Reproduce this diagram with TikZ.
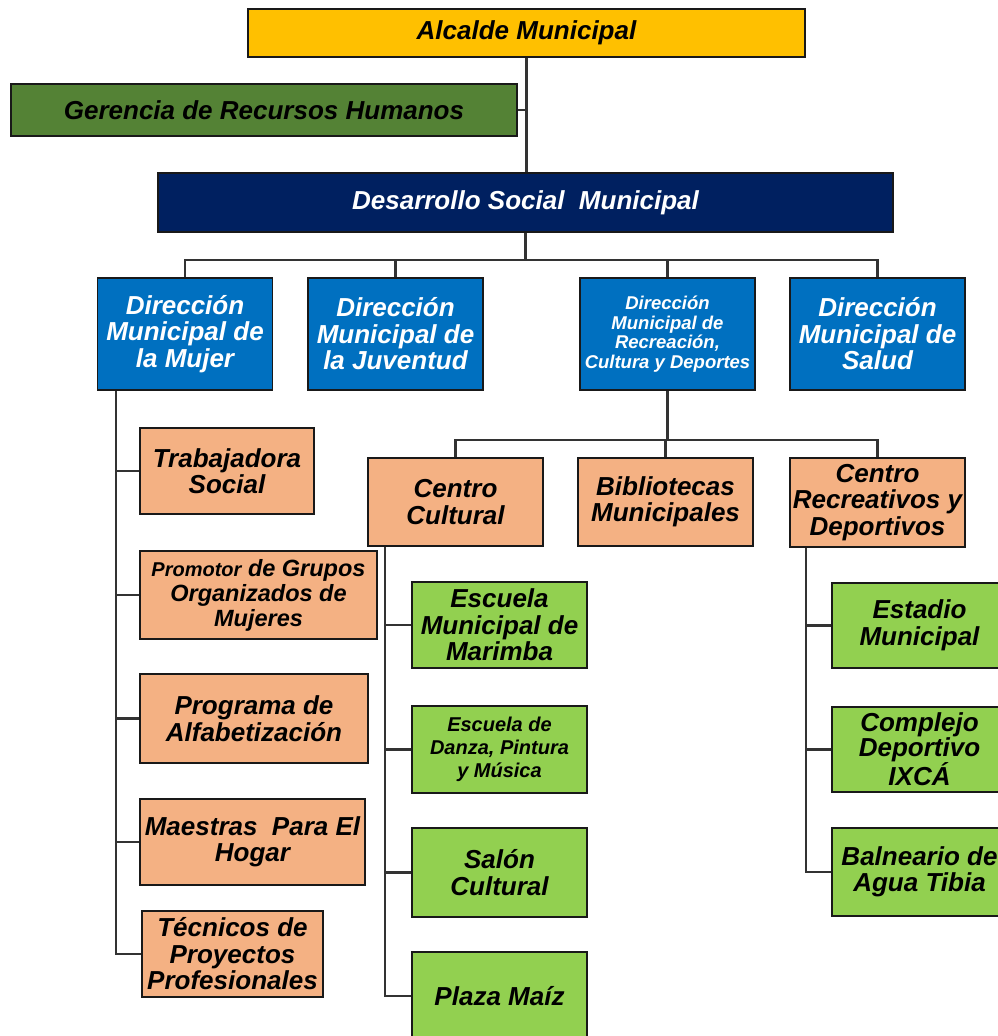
\documentclass[tikz,border=0pt]{standalone}
\usepackage{fontspec}
\setmainfont{Liberation Sans}
\newcommand\fsz[2]{\fontsize{#1}{#2}\selectfont}
\definecolor{gold}{HTML}{FFC000}
\definecolor{olive}{HTML}{548235}
\definecolor{navy}{HTML}{002060}
\definecolor{midblue}{HTML}{0070C0}
\definecolor{peach}{HTML}{F4B183}
\definecolor{lime}{HTML}{92D050}
\tikzset{
  box/.style={draw=black!90, line width=1.8pt, inner sep=0pt, align=center, font={\bfseries\itshape\fsz{26}{26.5}}},
  goldbox/.style={box, fill=gold},
  olivebox/.style={box, fill=olive},
  navybox/.style={box, fill=navy, text=white},
  bluebox/.style={box, fill=midblue, text=white, minimum width=175, minimum height=112},
  peachbox/.style={box, fill=peach},
  limebox/.style={box, fill=lime, minimum width=175},
  link/.style={draw=black!80, line width=2.2pt}
}
\begin{document}
\begin{tikzpicture}[x=1pt, y=-1pt]
\clip (0,0) rectangle (998,1036);
\fill[white] (0,0) rectangle (998,1036);
% top levels
\node[goldbox, minimum width=557, minimum height=48] (alc) at (526.5,33) {Alcalde Municipal};
\node[olivebox, minimum width=506, minimum height=52] (ger) at (264,110) {Gerencia de Recursos Humanos};
\node[navybox, minimum width=735, minimum height=59] (des) at (525.5,202.5) {Desarrollo Social\ \ Municipal};
% direcciones
\node[bluebox] (muj) at (185,334) {Dirección\\Municipal de\\la Mujer};
\node[bluebox] (juv) at (395.5,334) {Dirección\\Municipal de\\la Juventud};
\node[bluebox, font={\bfseries\itshape\fsz{18.5}{19.5}}] (rec) at (667.5,334) {Dirección\\Municipal de\\Recreación,\\Cultura y Deportes};
\node[bluebox] (sal) at (877.5,334) {Dirección\\Municipal de\\Salud};
% mujer column
\node[peachbox, minimum width=174, minimum height=86] (trab) at (227,471) {Trabajadora\\Social};
\node[peachbox, minimum width=237, minimum height=88, font={\bfseries\itshape\fsz{23.5}{25}}] (prom) at (258.5,595) {{\fsz{20}{25}Promotor} de Grupos\\Organizados de\\Mujeres};
\node[peachbox, minimum width=228, minimum height=89] (prog) at (254,718.5) {Programa de\\Alfabetización};
\node[peachbox, minimum width=225, minimum height=86] (maes) at (252.5,842) {Maestras\ \ Para El\\Hogar};
\node[peachbox, minimum width=181, minimum height=86] (tec) at (232.5,954) {Técnicos de\\Proyectos\\Profesionales};
% recreacion children
\node[peachbox, minimum width=175, minimum height=88] (cc) at (455.5,502) {Centro\\Cultural};
\node[peachbox, minimum width=175, minimum height=88] (bib) at (665.5,502) {Bibliotecas\\Municipales};
\node[peachbox, minimum width=175, minimum height=89] (cr) at (877.5,502.5) {Centro\\Recreativos y\\Deportivos};
% centro cultural children
\node[limebox, minimum height=86] (esm) at (499.5,625) {Escuela\\Municipal de\\Marimba};
\node[limebox, minimum height=87, font={\bfseries\itshape\fsz{20}{23}}] (esd) at (499.5,749.5) {Escuela de\\Danza, Pintura\\y Música};
\node[limebox, minimum height=89] (salon) at (499.5,872.5) {Salón\\Cultural};
\node[limebox, minimum height=88] (plaza) at (499.5,996) {Plaza Maíz};
% centro recreativo children
\node[limebox, minimum height=85] (est) at (919.5,625.5) {Estadio\\Municipal};
\node[limebox, minimum height=85, font={\bfseries\itshape\fsz{26}{24.5}}] (comp) at (919.5,749.5) {Complejo\\Deportivo\\IXCÁ};
\node[limebox, minimum height=88] (baln) at (919.5,872) {Balneario de\\Agua Tibia};
% connectors
\coordinate (b1) at (0,260);
\coordinate (b2) at (0,440);
\coordinate (ms) at ([xshift=19pt]muj.south west);
\coordinate (cs) at ([xshift=18pt]cc.south west);
\coordinate (rs) at ([xshift=17pt]cr.south west);
\path[link] (alc.south) -- (alc.south |- des.north);
\path[link] (ger.east) -- (ger.east -| alc.south);
\path[link] (des.south) -- (des.south |- b1);
\path[link] (muj.north) -- (muj.north |- b1) -- (sal.north |- b1) -- (sal.north);
\path[link] (juv.north) -- (juv.north |- b1);
\path[link] (rec.north) -- (rec.north |- b1);
\path[link] (ms) |- (tec.west);
\foreach \n in {trab,prom,prog,maes} \path[link] (ms |- \n.west) -- (\n.west);
\path[link] (rec.south) -- (rec.south |- b2);
\path[link] (cc.north) -- (cc.north |- b2) -- (cr.north |- b2) -- (cr.north);
\path[link] (bib.north) -- (bib.north |- b2);
\path[link] (cs) |- (plaza.west);
\foreach \n in {esm,esd,salon} \path[link] (cs |- \n.west) -- (\n.west);
\path[link] (rs) |- (baln.west);
\foreach \n in {est,comp} \path[link] (rs |- \n.west) -- (\n.west);
\end{tikzpicture}
\end{document}
